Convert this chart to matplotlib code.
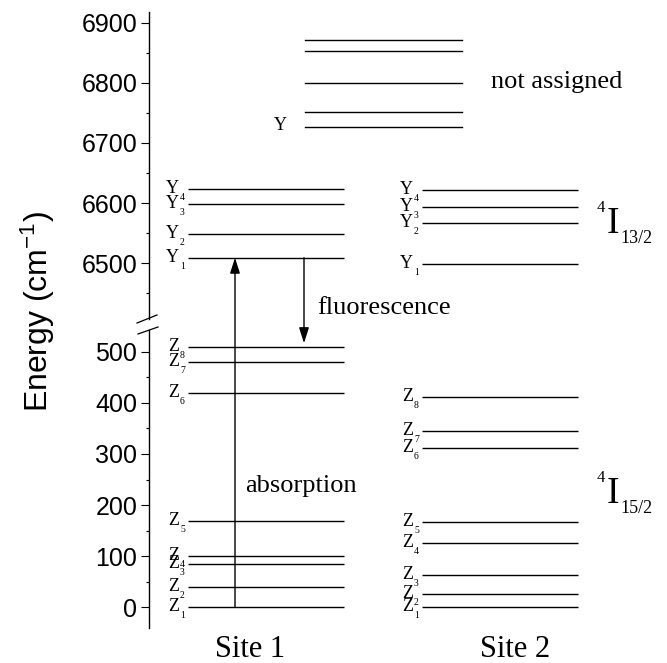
"""Crystal-field energy levels of the 4I13/2 and 4I15/2 manifolds for two sites."""

import matplotlib

matplotlib.use("Agg")
import matplotlib.pyplot as plt
from matplotlib.lines import Line2D

# level energies (cm^-1)
SITE1_Y = [6509, 6549, 6599, 6624]
SITE2_Y = [6498, 6566, 6594, 6622]
UNASSIGNED_Y = [6727, 6752, 6800, 6853, 6871]
SITE1_Z = [0, 39, 84, 101, 169, 419, 480, 509]
SITE2_Z = [0, 26, 62, 125, 167, 312, 346, 411]

UPPER_TICKS = [6500, 6600, 6700, 6800, 6900]
LOWER_TICKS = [0, 100, 200, 300, 400, 500]

W, H = 667, 663
SERIF = "Liberation Serif"
SANS = "Liberation Sans"

# horizontal extents of the level bars (axes x runs in pixel units)
SITE1_X = (188, 344)
SITE2_X = (422, 578)
UNASSIGNED_X = (305, 462)


def px(x, y):
    """Figure fraction from pixel position (origin top left)."""
    return x / W, 1 - y / H


def style_axis(ax, ylim, ticks):
    for side in ("top", "right", "bottom"):
        ax.spines[side].set_visible(False)
    ax.spines["left"].set_linewidth(1.0)
    ax.set_xticks([])
    ax.set_yticks(ticks)
    ax.set_yticks(range(ticks[0] - 50, ticks[-1] + 51, 50), minor=True)
    # limits after ticks, set_yticks would widen them otherwise
    ax.set_xlim(148.5, W)
    ax.set_ylim(*ylim)
    ax.tick_params(axis="y", which="major", direction="out", length=6,
                   width=0.8, pad=2, labelsize=18)
    ax.tick_params(axis="y", which="minor", direction="out", length=2.5,
                   width=0.8)
    for lab in ax.get_yticklabels():
        lab.set_fontfamily(SANS)
    ax.patch.set_visible(False)


def draw_levels(ax, levels, xr, letter):
    for i, e in enumerate(levels):
        ax.plot(xr, [e, e], color="black", lw=1.0, solid_capstyle="butt")
        ax.annotate(letter, xy=(xr[0] - 9, e), xytext=(0, -4),
                    textcoords="offset pixels", ha="right", va="baseline",
                    fontsize=13, family=SERIF)
        ax.annotate(str(i + 1), xy=(xr[0] - 8, e), xytext=(0, -11),
                    textcoords="offset pixels", ha="left", va="baseline",
                    fontsize=7, family=SERIF)


plt.rcParams["mathtext.default"] = "regular"
fig = plt.figure(figsize=(W / 100, H / 100), dpi=100)

ax_low = fig.add_axes([148.5 / W, 1 - 628 / H, (W - 148.5) / W, (628 - 330) / H])
ax_up = fig.add_axes([148.5 / W, 1 - 319 / H, (W - 148.5) / W, (319 - 12) / H])

style_axis(ax_low, (-41, 543), LOWER_TICKS)
style_axis(ax_up, (6407, 6918), UPPER_TICKS)

draw_levels(ax_up, SITE1_Y, SITE1_X, "Y")
draw_levels(ax_up, SITE2_Y, SITE2_X, "Y")
draw_levels(ax_low, SITE1_Z, SITE1_X, "Z")
draw_levels(ax_low, SITE2_Z, SITE2_X, "Z")

for e in UNASSIGNED_Y:
    ax_up.plot(UNASSIGNED_X, [e, e], color="black", lw=1.0)
ax_up.annotate("Y", xy=(UNASSIGNED_X[0] - 18, UNASSIGNED_Y[0]), xytext=(0, -3.5),
               textcoords="offset pixels", ha="right", va="baseline",
               fontsize=13, family=SERIF)

# absorption / fluorescence arrows spanning the axis break
arrow = dict(arrowstyle="-|>,head_length=0.47,head_width=0.15",
             mutation_scale=20, color="black", lw=1.0)
ax_up.annotate("", xy=(235, SITE1_Y[0]), xycoords="data",
               xytext=(235, SITE1_Z[0]), textcoords=ax_low.transData,
               arrowprops=dict(arrow, shrinkA=0, shrinkB=0),
               annotation_clip=False)
ax_up.annotate("", xy=(304, SITE1_Z[-1]), xycoords=ax_low.transData,
               xytext=(304, SITE1_Y[0]), textcoords="data",
               arrowprops=dict(arrow, shrinkA=0, shrinkB=3),
               annotation_clip=False)

# axis break marks
for (x0, y0), (x1, y1) in [((137, 323), (157, 315)), ((138, 334), (158, 327))]:
    fig.add_artist(Line2D(*zip(px(x0, y0), px(x1, y1)), color="black",
                          lw=0.9, transform=fig.transFigure))

fig.text(*px(38, 311), "Energy (cm$^{-1}$)", rotation=90, ha="center",
         va="center", fontsize=23, family=SANS)

fig.text(*px(317, 314), "fluorescence", fontsize=19, family=SERIF, va="baseline")
fig.text(*px(245, 492), "absorption", fontsize=19, family=SERIF, va="baseline")
fig.text(*px(491, 88), "not assigned", fontsize=19, family=SERIF, va="baseline")
fig.text(*px(215, 657), "Site 1", fontsize=22, family=SERIF, va="baseline")
fig.text(*px(480, 657), "Site 2", fontsize=22, family=SERIF, va="baseline")

for base, sub in [(233, "13/2"), (503, "15/2")]:
    fig.text(*px(597, base - 21), "4", fontsize=12, family=SERIF, va="baseline")
    fig.text(*px(607, base), "I", fontsize=27, family=SERIF, va="baseline")
    fig.text(*px(620, base + 10), sub, fontsize=13, family=SERIF, va="baseline")

fig.savefig("out.png", dpi=100)
